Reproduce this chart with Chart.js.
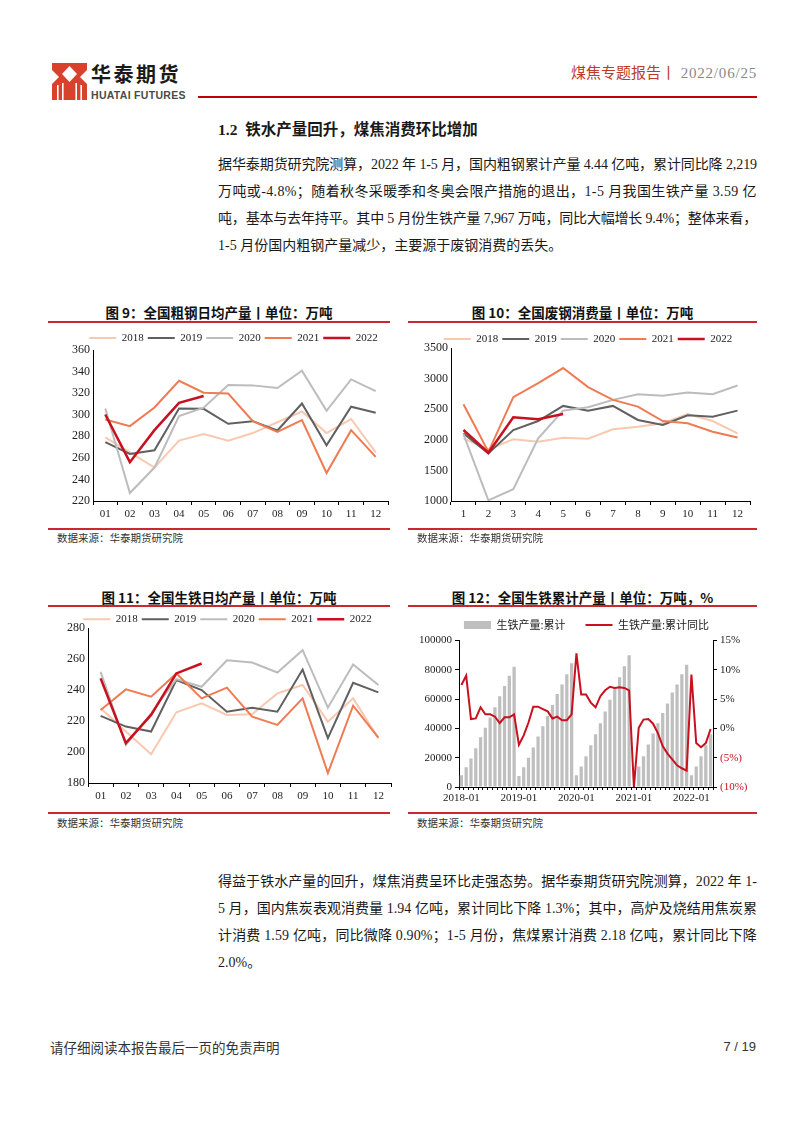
<!DOCTYPE html>
<html lang="zh-CN">
<head>
<meta charset="utf-8">
<title>煤焦专题报告</title>
<script src="https://cdn.jsdelivr.net/npm/chart.js@4.4.1/dist/chart.umd.min.js"></script>
<style>
  html, body { margin: 0; padding: 0; background: #fff; }
  #page { position: relative; width: 802px; height: 1133px; overflow: hidden;
          font-family: "Liberation Serif", "Noto Sans CJK SC", serif; color: #1a1a1a; }
  .abs { position: absolute; white-space: nowrap; }
  .rule { position: absolute; height: 1.5px; background: #c8282e; }
  .ftitle { position: absolute; text-align: center; font-family: "Noto Sans CJK SC", sans-serif;
            font-weight: 700; font-size: 13.5px; line-height: 18px; color: #111; }
  .src { position: absolute; font-family: "Noto Sans CJK SC", sans-serif; font-size: 10.5px;
         line-height: 14px; color: #333; white-space: nowrap; }
  .jl { position: absolute; left: 218px; font-size: 14px; line-height: 18px; white-space: nowrap; }
  canvas { position: absolute; }
</style>
</head>
<body>
<div id="page">
  <!-- 页眉 -->
  <svg class="abs" style="left:52px;top:63px" width="35" height="37" viewBox="0 0 35 37">
    <rect width="35" height="37" fill="#d8412c"/>
    <polygon points="17.5,3 25,11 17.5,19 10,11" fill="#fff"/>
    <polygon points="0,7 7,14 0,21" fill="#fff"/>
    <polygon points="35,7 28,14 35,21" fill="#fff"/>
    <rect x="5" y="22" width="1.6" height="15" fill="#fff"/>
    <rect x="10" y="20" width="1.6" height="17" fill="#fff"/>
    <rect x="23.4" y="20" width="1.6" height="17" fill="#fff"/>
    <rect x="28.4" y="22" width="1.6" height="15" fill="#fff"/>
  </svg>
  <div class="abs" style="left:91px;top:63px;font:700 20px 'Noto Sans CJK SC';letter-spacing:2.5px;line-height:22px;color:#1a1a1a">华泰期货</div>
  <div class="abs" style="left:91px;top:89px;font:700 10.5px 'Liberation Sans';letter-spacing:0.3px;line-height:12px;color:#4a4a4a">HUATAI FUTURES</div>
  <div class="abs" style="right:45px;top:62px;line-height:20px"><span style="color:#c0392b;font-family:'Noto Sans CJK SC';font-size:15px">煤焦专题报告丨</span><span style="color:#888;font-size:15px;letter-spacing:0.8px"> 2022/06/25</span></div>
  <div class="rule" style="left:198px;top:96px;width:559px;height:2px;background:#c00000"></div>

  <!-- 正文 -->
  <div class="abs" style="left:218px;top:120px;font-size:15.5px;line-height:20px;font-weight:700;font-family:'Liberation Serif','Noto Sans CJK SC'">1.2&nbsp;&nbsp;铁水产量回升，煤焦消费环比增加</div>
  <div class="jl fit" style="top:156px">据华泰期货研究院测算，2022 年 1-5 月，国内粗钢累计产量 4.44 亿吨，累计同比降 2,219</div>
  <div class="jl fit" style="top:183px">万吨或-4.8%；随着秋冬采暖季和冬奥会限产措施的退出，1-5 月我国生铁产量 3.59 亿</div>
  <div class="jl fit" style="top:210px">吨，基本与去年持平。其中 5 月份生铁产量 7,967 万吨，同比大幅增长 9.4%；整体来看，</div>
  <div class="jl" style="top:237px">1-5 月份国内粗钢产量减少，主要源于废钢消费的丢失。</div>

  <!-- 图 9 -->
  <div class="ftitle" style="left:48px;width:342px;top:303px">图 9：全国粗钢日均产量丨单位：万吨</div>
  <div class="rule" style="left:48px;top:321px;width:342px"></div>
  <canvas id="c9" width="370" height="197" style="left:40px;top:326px"></canvas>
  <div class="rule" style="left:48px;top:528px;width:342px"></div>
  <div class="src" style="left:57px;top:531px">数据来源：华泰期货研究院</div>

  <!-- 图 10 -->
  <div class="ftitle" style="left:408px;width:349px;top:303px">图 10：全国废钢消费量丨单位：万吨</div>
  <div class="rule" style="left:408px;top:321px;width:349px"></div>
  <canvas id="c10" width="362" height="197" style="left:400px;top:326px"></canvas>
  <div class="rule" style="left:408px;top:528px;width:349px"></div>
  <div class="src" style="left:417px;top:531px">数据来源：华泰期货研究院</div>

  <!-- 图 11 -->
  <div class="ftitle" style="left:48px;width:342px;top:588px">图 11：全国生铁日均产量丨单位：万吨</div>
  <div class="rule" style="left:48px;top:605px;width:342px"></div>
  <canvas id="c11" width="360" height="199" style="left:40px;top:606px"></canvas>
  <div class="rule" style="left:48px;top:812px;width:342px"></div>
  <div class="src" style="left:57px;top:816px">数据来源：华泰期货研究院</div>

  <!-- 图 12 -->
  <div class="ftitle" style="left:408px;width:349px;top:588px">图 12：全国生铁累计产量丨单位：万吨，%</div>
  <div class="rule" style="left:408px;top:605px;width:349px"></div>
  <canvas id="c12" width="360" height="213" style="left:400px;top:596px"></canvas>
  <div class="rule" style="left:408px;top:812px;width:349px"></div>
  <div class="src" style="left:417px;top:816px">数据来源：华泰期货研究院</div>

  <div class="jl fit" style="top:873px">得益于铁水产量的回升，煤焦消费呈环比走强态势。据华泰期货研究院测算，2022 年 1-</div>
  <div class="jl fit" style="top:900px">5 月，国内焦炭表观消费量 1.94 亿吨，累计同比下降 1.3%；其中，高炉及烧结用焦炭累</div>
  <div class="jl fit" style="top:927px">计消费 1.59 亿吨，同比微降 0.90%；1-5 月份，焦煤累计消费 2.18 亿吨，累计同比下降</div>
  <div class="jl" style="top:954px">2.0%。</div>

  <!-- 页脚 -->
  <div class="abs" style="left:50px;top:1039px;font-size:13.5px;line-height:16px;color:#333;font-family:'Noto Sans CJK SC'">请仔细阅读本报告最后一页的免责声明</div>
  <div class="abs" style="right:46px;top:1039px;font-size:13px;line-height:16px;color:#333;font-family:'Liberation Sans Narrow','Liberation Sans'">7 / 19</div>
</div>

<script>
// 月份刻度
const monthTicks = ["01", "02", "03", "04", "05", "06", "07", "08", "09", "10", "11", "12"];
const scrapTicks = ["1", "2", "3", "4", "5", "6", "7", "8", "9", "10", "11", "12"];

// 图9 全国粗钢日均产量（万吨）
const crude2018 = [279, 265, 251, 276, 282, 276, 283, 293, 303, 283, 296, 265];
const crude2019 = [274.5, 263.7, 267, 305.8, 305.5, 291.6, 294, 285.4, 310.4, 271.7, 307.4, 301.8];
const crude2020 = [305.8, 227.4, 251, 298.7, 306.5, 327.5, 327.2, 324.7, 340.8, 303.6, 332.7, 321.9];
const crude2021 = [295.6, 289.4, 306.7, 331.5, 320.4, 319.7, 294, 284.1, 295, 246, 285.7, 260.9];
const crude2022 = [300.2, 256, 285.7, 311, 317.3];

// 图10 全国废钢消费量（万吨）
const scrap2018 = [2023, 1842, 2007, 1968, 2034, 2018, 2171, 2214, 2269, 2422, 2307, 2105];
const scrap2019 = [2105, 1777, 2160, 2307, 2554, 2477, 2554, 2324, 2242, 2400, 2378, 2477];
const scrap2020 = [2094, 1011, 1192, 2023, 2477, 2532, 2652, 2745, 2718, 2772, 2745, 2887];
const scrap2021 = [2581, 1804, 2696, 2926, 3172, 2860, 2652, 2543, 2307, 2269, 2132, 2039];
const scrap2022 = [2160, 1788, 2368, 2335, 2422];

// 图11 全国生铁日均产量（万吨）
const iron2018 = [228.2, 213.2, 198.6, 225.6, 231.4, 223.9, 224.3, 237.8, 243.2, 219.6, 234.6, 208.9];
const iron2019 = [223.3, 216.4, 213.2, 246.4, 240, 226, 228.6, 226, 253.2, 208.9, 244.7, 238.5];
const iron2020 = [251.7, 204.6, 225, 247, 242.1, 259.2, 257.7, 251.3, 265.7, 228.6, 256.4, 243.2];
const iron2021 = [227.1, 240.4, 235.7, 250.7, 234.6, 241.5, 222.8, 217.5, 234.6, 186.4, 229.9, 209.3];
const iron2022 = [247.5, 205.7, 223.9, 250.7, 257.1];

// 图12 全国生铁累计产量（万吨）与累计同比（%）
const ironMonths = [
  "2018-01", "2018-02", "2018-03", "2018-04", "2018-05", "2018-06", "2018-07", "2018-08", "2018-09", "2018-10", "2018-11", "2018-12",
  "2019-01", "2019-02", "2019-03", "2019-04", "2019-05", "2019-06", "2019-07", "2019-08", "2019-09", "2019-10", "2019-11", "2019-12",
  "2020-01", "2020-02", "2020-03", "2020-04", "2020-05", "2020-06", "2020-07", "2020-08", "2020-09", "2020-10", "2020-11", "2020-12",
  "2021-01", "2021-02", "2021-03", "2021-04", "2021-05", "2021-06", "2021-07", "2021-08", "2021-09", "2021-10", "2021-11", "2021-12",
  "2022-01", "2022-02", "2022-03", "2022-04", "2022-05"
];
const ironCum = [
  8000, 13500, 19500, 26500, 34000, 40500, 47500, 54500, 62000, 69000, 76000, 82000,
  7500, 13500, 20000, 27000, 34500, 41500, 48500, 56000, 63500, 70000, 77000, 84500,
  8000, 14000, 21000, 28500, 36000, 43500, 51500, 59500, 67500, 75000, 82500, 90000,
  null, 14000, 21000, 29000, 36500, 43500, 50500, 57000, 64500, 70000, 77000, 83500,
  8000, 14000, 21000, 28500, 36000
];
const ironYoy = [
  7.4, 9.0, 1.6, 1.7, 3.6, 2.4, 2.4, 2.0, 0.9, 1.9, 1.9, 2.4,
  -2.8, -1.2, 1.0, 3.7, 3.7, 3.3, 2.9, 1.7, 2.0, 1.4, 1.4, 2.4,
  12.8, 5.8, 5.8, 4.4, 3.6, 5.5, 6.5, 7.1, 6.9, 7.0, 6.9, 6.5,
  -10.0, 0.1, 1.5, 1.6, 0.8, -0.8, -3.0, -4.3, -5.3, -6.3, -6.8, -7.2,
  9.2, -2.5, -3.2, -2.5, -0.1
];

Chart.defaults.font.family = '"Liberation Serif", "Noto Sans CJK SC", serif';
Chart.defaults.color = '#222';
Chart.defaults.animation = false;

const yearStyle = [
  { label: "2018", color: "#f8c8b0", width: 2 },
  { label: "2019", color: "#606060", width: 2 },
  { label: "2020", color: "#bcbcbc", width: 2 },
  { label: "2021", color: "#ef7b52", width: 2 },
  { label: "2022", color: "#c8101e", width: 2.5 }
];

const byIndex = (a, b) => a.datasetIndex - b.datasetIndex;
const plainNum = (v) => String(v);

// 按年份画折线图
function makeYearChart(id, ticks, series, yOpt, box) {
  return new Chart(document.getElementById(id), {
    type: "line",
    data: {
      labels: ticks,
      datasets: series.map((data, i) => ({
        label: yearStyle[i].label,
        data: data,
        borderColor: yearStyle[i].color,
        backgroundColor: yearStyle[i].color,
        borderWidth: yearStyle[i].width,
        pointRadius: 0,
        pointHoverRadius: 0,
        pointStyle: "line",
        tension: 0,
        order: series.length - i
      }))
    },
    options: {
      responsive: false,
      animation: false,
      layout: { padding: box.pad },
      plugins: {
        tooltip: { enabled: false },
        legend: {
          maxHeight: box.legendH,
          labels: {
            sort: byIndex,
            usePointStyle: true,
            pointStyle: "line",
            pointStyleWidth: 27,
            boxHeight: 11,
            padding: 4,
            color: "#222",
            font: { size: 11 }
          }
        }
      },
      scales: {
        x: {
          offset: true,
          grid: { offset: true, drawOnChartArea: false, tickLength: 4, color: "#000" },
          border: { color: "#000" },
          ticks: { padding: 3, maxRotation: 0, font: { size: 11 }, color: "#222" },
          afterFit: (s) => { s.height = 22; }
        },
        y: {
          min: yOpt.min,
          max: yOpt.max,
          grid: { display: false, drawTicks: false },
          border: { color: "#000" },
          ticks: { stepSize: yOpt.step, padding: 3, font: { size: 12 }, color: "#222", callback: plainNum },
          afterFit: (s) => { s.width = box.yW; }
        },
        // 右侧留白，只为让图例居中位置与原图一致
        gap: {
          type: "linear",
          position: "right",
          grid: { display: false, drawTicks: false },
          border: { display: false },
          ticks: { display: false },
          afterFit: (s) => { s.width = box.rW; }
        }
      }
    }
  });
}

makeYearChart("c9", monthTicks, [crude2018, crude2019, crude2020, crude2021, crude2022],
  { min: 220, max: 360, step: 20 },
  { pad: { left: 23, right: 6, top: 2.5, bottom: 0 }, yW: 30, rW: 16, legendH: 21.5 });

makeYearChart("c10", scrapTicks, [scrap2018, scrap2019, scrap2020, scrap2021, scrap2022],
  { min: 1000, max: 3500, step: 500 },
  { pad: { left: 16, right: 2, top: 3.5, bottom: 0 }, yW: 35, rW: 10, legendH: 18.5 });

makeYearChart("c11", monthTicks, [iron2018, iron2019, iron2020, iron2021, iron2022],
  { min: 180, max: 280, step: 20 },
  { pad: { left: 18, right: 3, top: 3.8, bottom: 0 }, yW: 30, rW: 6, legendH: 18.2 });

// 图12 柱+线双轴
new Chart(document.getElementById("c12"), {
  data: {
    labels: ironMonths,
    datasets: [
      {
        type: "bar",
        label: "生铁产量:累计",
        data: ironCum,
        backgroundColor: "#bfbfbf",
        yAxisID: "y",
        barPercentage: 0.68,
        categoryPercentage: 1,
        pointStyle: "rect",
        order: 2
      },
      {
        type: "line",
        label: "生铁产量:累计同比",
        data: ironYoy,
        borderColor: "#c8101e",
        backgroundColor: "#c8101e",
        borderWidth: 2,
        pointRadius: 0,
        pointHoverRadius: 0,
        pointStyle: "line",
        tension: 0,
        yAxisID: "y1",
        order: 1
      }
    ]
  },
  options: {
    responsive: false,
    animation: false,
    layout: { padding: { left: 15, right: 2, top: 3.5, bottom: 0 } },
    plugins: {
      tooltip: { enabled: false },
      legend: {
        maxHeight: 43.5,
        labels: {
          sort: byIndex,
          usePointStyle: true,
          pointStyleWidth: 27,
          boxHeight: 8,
          padding: 20,
          color: "#222",
          font: { family: '"Noto Sans CJK SC", sans-serif', size: 11 }
        }
      }
    },
    scales: {
      x: {
        offset: true,
        grid: { offset: true, drawOnChartArea: false, tickLength: 3, color: "#000" },
        border: { color: "#000" },
        ticks: {
          autoSkip: false,
          maxRotation: 0,
          padding: 2,
          font: { size: 11 },
          color: "#222",
          callback: (v, i) => ironMonths[i].endsWith("-01") ? ironMonths[i] : ""
        },
        afterFit: (s) => { s.height = 22; }
      },
      y: {
        position: "left",
        min: 0,
        max: 100000,
        grid: { drawOnChartArea: false, tickLength: 4, color: "#000" },
        border: { color: "#000" },
        ticks: { stepSize: 20000, padding: 3, font: { size: 11 }, color: "#222", callback: plainNum },
        afterFit: (s) => { s.width = 44; }
      },
      y1: {
        position: "right",
        min: -10,
        max: 15,
        grid: { drawOnChartArea: false, tickLength: 4, color: "#000" },
        border: { color: "#000" },
        ticks: {
          stepSize: 5,
          padding: 3,
          font: { size: 11 },
          color: (c) => (c.tick && c.tick.value < 0 ? "#c8101e" : "#222"),
          callback: (v) => (v < 0 ? "(" + (-v) + "%)" : v + "%")
        },
        afterFit: (s) => { s.width = 45; }
      }
    }
  }
});

// 正文两端对齐：把每行拉到同一宽度
function fitLines() {
  document.querySelectorAll(".jl.fit").forEach((el) => {
    el.style.letterSpacing = "0px";
    const w = el.getBoundingClientRect().width;
    const n = el.textContent.length;
    el.style.letterSpacing = ((539 - w) / n) + "px";
  });
}
fitLines();
if (document.fonts && document.fonts.ready) document.fonts.ready.then(fitLines);
</script>
</body>
</html>
